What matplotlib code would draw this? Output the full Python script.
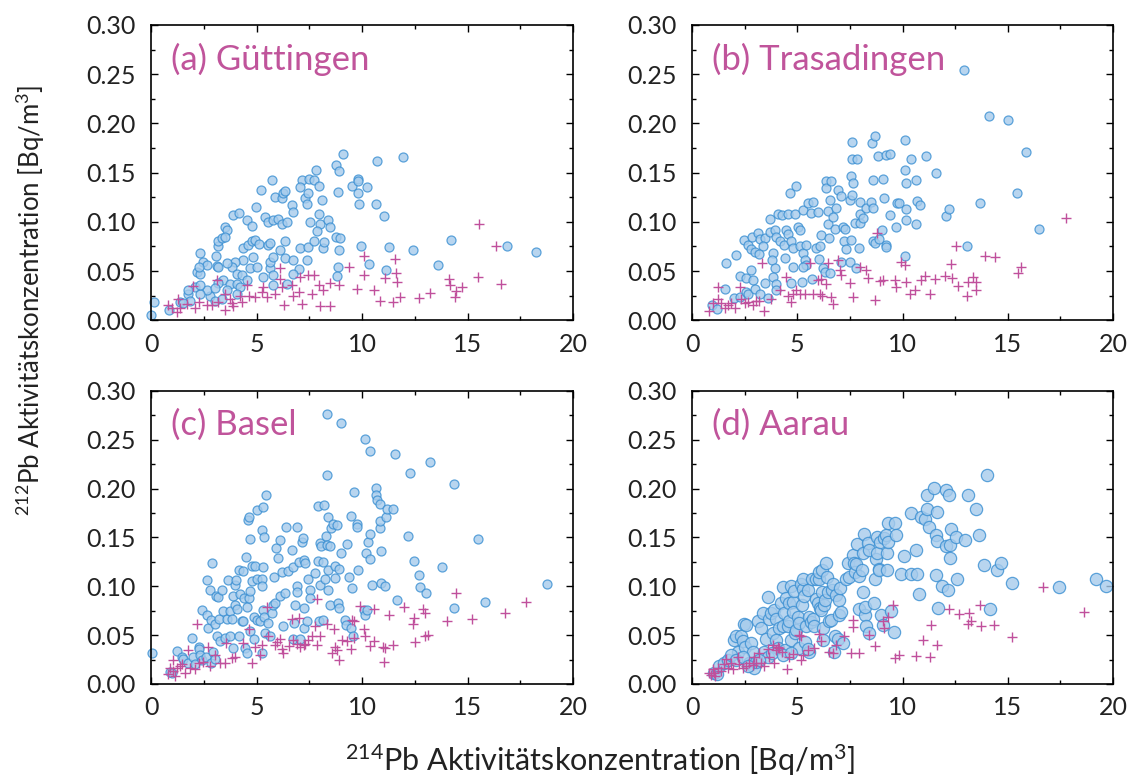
import matplotlib
matplotlib.use("Agg")
import matplotlib.pyplot as plt
from matplotlib.ticker import MultipleLocator, FormatStrFormatter

plt.rcParams['font.family'] = ['Lato', 'DejaVu Sans']
plt.rcParams['mathtext.fontset'] = 'custom'
plt.rcParams['mathtext.rm'] = 'Lato'
plt.rcParams['mathtext.it'] = 'Lato'
plt.rcParams['mathtext.bf'] = 'Lato'
plt.rcParams['mathtext.default'] = 'rm'

titles = ["(a) Güttingen", "(b) Trasadingen", "(c) Basel", "(d) Aarau"]
xticks = [0, 5, 10, 15, 20]
yticks = [0.00, 0.05, 0.10, 0.15, 0.20, 0.25, 0.30]
xlabel = "$^{214}$Pb Aktivitätskonzentration [Bq/m$^{3}$]"
ylabel = "$^{212}$Pb Aktivitätskonzentration [Bq/m$^{3}$]"

# ---------------- (a) Güttingen ----------------
a_circ_x = [0.0, 0.15, 0.87, 1.38, 1.77, 2.09, 2.32, 2.17, 2.3, 2.48, 2.64, 2.25, 3.07, 3.19, 3.19, 3.51, 3.59, 3.35, 3.51,
            3.87, 4.19, 4.54, 4.78, 4.96, 5.2, 5.72, 5.88, 6.2, 6.24, 6.35, 5.41, 5.56, 5.8, 6.04, 6.2, 6.43, 6.67, 6.75,
            7.15, 7.07, 7.3, 7.38, 7.46, 7.51, 7.7, 7.83, 7.94, 8.09, 7.94, 7.54, 8.02, 7.86, 8.41, 8.49, 8.77, 8.89, 9.12,
            8.84, 9.52, 9.83, 9.79, 9.8, 9.87, 10.23, 10.7, 10.67, 11.05, 11.94, 8.77, 8.97, 8.89, 8.85, 8.8, 9.96, 10.31,
            11.26, 11.15, 12.4, 13.6, 14.21, 16.87, 18.26,
            4.38, 4.61, 4.78, 4.94, 5.14, 4.82, 4.38, 3.98, 3.82, 4.06, 4.3, 4.7, 5.01, 5.33, 5.64, 5.64, 5.8, 6.12, 6.33,
            5.56, 5.64, 6.35, 6.75, 7.07, 7.46, 7.7, 8.14, 8.22, 7.38, 6.99, 6.75, 5.8, 5.8, 6.43, 3.59, 3.11, 3.19, 3.43,
            3.19, 3.75, 4.06, 4.22, 4.54, 3.59, 2.8, 2.64, 2.32, 1.85, 1.5, 3.04, 3.35, 4.06, 2.32, 1.77, 3.04]
a_circ_y = [0.005, 0.019, 0.010, 0.019, 0.027, 0.034, 0.068, 0.049, 0.047, 0.059, 0.056, 0.054, 0.065, 0.075, 0.080, 0.095,
            0.092, 0.084, 0.085, 0.107, 0.109, 0.102, 0.096, 0.115, 0.132, 0.142, 0.125, 0.124, 0.129, 0.131, 0.105, 0.100,
            0.102, 0.103, 0.098, 0.100, 0.117, 0.110, 0.142, 0.135, 0.124, 0.118, 0.129, 0.144, 0.142, 0.153, 0.136, 0.122,
            0.108, 0.100, 0.098, 0.091, 0.102, 0.095, 0.158, 0.152, 0.169, 0.130, 0.136, 0.143, 0.141, 0.129, 0.118, 0.135,
            0.162, 0.118, 0.106, 0.166, 0.085, 0.084, 0.071, 0.054, 0.045, 0.075, 0.057, 0.074, 0.051, 0.071, 0.056, 0.082,
            0.075, 0.069,
            0.073, 0.076, 0.081, 0.082, 0.077, 0.064, 0.061, 0.059, 0.054, 0.047, 0.046, 0.053, 0.054, 0.044, 0.053, 0.059,
            0.064, 0.071, 0.080, 0.076, 0.078, 0.063, 0.061, 0.073, 0.074, 0.081, 0.073, 0.079, 0.061, 0.052, 0.047, 0.046,
            0.036, 0.037, 0.058, 0.055, 0.054, 0.041, 0.038, 0.037, 0.037, 0.034, 0.041, 0.031, 0.025, 0.031, 0.027, 0.020,
            0.017, 0.020, 0.022, 0.027, 0.036, 0.031, 0.033]
a_plus_x = [0.82, 0.98, 1.22, 1.38, 1.3, 1.69, 2.09, 2.25, 2.64, 2.88, 2.01, 3.11, 3.51, 3.82, 3.9, 4.3, 4.22, 4.54, 4.62,
            4.94, 5.33, 5.25, 5.49, 5.88, 6.12, 6.12, 6.2, 6.28, 6.67, 6.75, 6.99, 7.07, 7.15, 7.46, 7.7, 7.62, 7.94, 8.17,
            8.02, 8.49, 8.49, 8.93, 9.36, 9.75, 10.1, 10.07, 10.55, 10.83, 11.1, 11.54, 11.62, 11.65, 11.46, 11.81, 12.68,
            13.2, 14.1, 14.15, 14.47, 14.42, 14.74, 15.48, 15.52, 16.36, 16.58, 3.51, 3.75, 3.19]
a_plus_y = [0.015, 0.012, 0.008, 0.012, 0.022, 0.016, 0.012, 0.019, 0.015, 0.015, 0.035, 0.041, 0.010, 0.017, 0.014, 0.019,
            0.025, 0.036, 0.025, 0.024, 0.034, 0.029, 0.024, 0.027, 0.053, 0.042, 0.034, 0.015, 0.036, 0.025, 0.029, 0.044,
            0.016, 0.046, 0.046, 0.027, 0.036, 0.031, 0.014, 0.014, 0.038, 0.036, 0.054, 0.032, 0.065, 0.046, 0.031, 0.020,
            0.043, 0.062, 0.048, 0.039, 0.019, 0.024, 0.023, 0.028, 0.042, 0.036, 0.030, 0.024, 0.034, 0.044, 0.098, 0.075,
            0.037, 0.027, 0.022, 0.019]

# ---------------- (b) Trasadingen ----------------
b_circ_x = [0.97, 1.19, 1.55, 1.63, 2.11, 1.98, 2.26, 2.30, 2.55, 2.58, 2.66, 2.79, 2.47, 2.66, 2.87, 2.82, 2.98, 3.14, 3.21,
            3.45, 3.37, 3.18, 2.9, 2.98, 3.21, 3.45, 3.61, 3.69, 3.69, 3.93, 4.01, 3.85, 3.82, 3.93, 3.85, 4.01, 3.98, 4.09,
            4.25, 4.17, 4.36, 4.4, 4.48, 4.56, 4.56, 4.64, 4.93, 4.88, 4.72, 4.8, 4.8, 4.72, 5.04, 5.12, 5.27, 5.51, 5.75,
            5.15, 5.27, 5.35, 5.43, 5.27, 5.24, 5.43, 5.67, 5.99, 5.91, 6.06, 6.03, 5.7, 6.14, 6.22, 6.3, 6.35, 6.35, 6.46,
            6.54, 6.62, 6.46, 6.51, 6.54, 6.7, 6.82, 6.78, 6.94, 7.09, 7.09, 7.17, 7.25, 7.21, 7.33, 7.49, 7.57, 7.62, 7.62,
            7.65, 7.62, 7.54, 7.52, 7.81, 7.84, 7.73, 7.93, 7.97, 7.97, 8.0, 8.12, 8.28, 8.49, 8.6, 8.6, 8.57, 8.68, 8.6,
            8.68, 8.84, 8.88, 9.04, 9.07, 9.1, 9.23, 9.39, 9.23, 9.23, 9.42, 9.67, 9.74, 9.83, 10.1, 10.1, 10.18, 10.18,
            10.18, 10.1, 10.42, 10.66, 10.69, 10.85, 10.63, 11.13, 11.58, 12.08, 12.21, 12.91, 13.08, 13.7, 14.11, 15.01,
            15.44, 15.85, 16.48]
b_circ_y = [0.015, 0.011, 0.032, 0.058, 0.066, 0.023, 0.024, 0.045, 0.043, 0.029, 0.027, 0.051, 0.082, 0.076, 0.085, 0.072,
            0.069, 0.089, 0.083, 0.084, 0.075, 0.067, 0.041, 0.032, 0.027, 0.038, 0.023, 0.103, 0.090, 0.092, 0.085, 0.068,
            0.061, 0.053, 0.044, 0.037, 0.031, 0.108, 0.107, 0.081, 0.076, 0.063, 0.092, 0.108, 0.088, 0.129, 0.136, 0.108,
            0.080, 0.073, 0.054, 0.038, 0.095, 0.092, 0.112, 0.119, 0.120, 0.075, 0.068, 0.061, 0.056, 0.054, 0.039, 0.076,
            0.109, 0.110, 0.073, 0.075, 0.062, 0.042, 0.087, 0.053, 0.049, 0.141, 0.134, 0.111, 0.122, 0.141, 0.098, 0.084,
            0.048, 0.105, 0.114, 0.093, 0.132, 0.126, 0.059, 0.095, 0.093, 0.080, 0.072, 0.122, 0.147, 0.181, 0.164, 0.139,
            0.127, 0.082, 0.059, 0.053, 0.164, 0.099, 0.073, 0.099, 0.108, 0.120, 0.104, 0.114, 0.120, 0.142, 0.114, 0.180,
            0.187, 0.081, 0.078, 0.167, 0.083, 0.092, 0.144, 0.124, 0.168, 0.169, 0.076, 0.074, 0.107, 0.095, 0.119, 0.119,
            0.183, 0.153, 0.139, 0.113, 0.102, 0.065, 0.164, 0.142, 0.121, 0.117, 0.098, 0.167, 0.150, 0.106, 0.113, 0.254,
            0.075, 0.119, 0.208, 0.203, 0.129, 0.171, 0.093]
b_plus_x = [0.81, 1.0, 1.24, 1.24, 1.39, 1.55, 1.71, 1.87, 2.03, 2.26, 2.34, 2.5, 2.66, 2.9, 3.06, 3.18, 3.34, 3.4, 3.77,
            4.17, 4.48, 4.56, 4.72, 4.8, 4.96, 5.12, 5.35, 5.59, 5.75, 5.99, 6.06, 6.19, 6.14, 6.38, 6.46, 6.62, 6.7, 6.94,
            7.01, 7.09, 7.49, 7.65, 7.97, 8.28, 8.36, 8.68, 8.8, 8.92, 9.07, 9.63, 9.71, 9.94, 10.1, 10.18, 10.34, 10.58,
            10.9, 11.06, 11.29, 11.53, 12.0, 12.32, 12.37, 12.56, 12.64, 13.06, 13.11, 13.35, 13.51, 13.51, 13.9, 14.38,
            15.49, 15.65, 17.75]
b_plus_y = [0.009, 0.017, 0.034, 0.022, 0.017, 0.012, 0.015, 0.017, 0.012, 0.034, 0.022, 0.017, 0.019, 0.015, 0.020, 0.020,
            0.058, 0.009, 0.022, 0.031, 0.044, 0.025, 0.019, 0.027, 0.031, 0.027, 0.027, 0.058, 0.027, 0.041, 0.027, 0.025,
            0.042, 0.037, 0.058, 0.024, 0.016, 0.061, 0.051, 0.046, 0.038, 0.024, 0.054, 0.051, 0.043, 0.021, 0.089, 0.040,
            0.041, 0.041, 0.034, 0.059, 0.056, 0.039, 0.027, 0.031, 0.041, 0.045, 0.027, 0.042, 0.045, 0.057, 0.043, 0.075,
            0.035, 0.025, 0.039, 0.044, 0.031, 0.039, 0.065, 0.064, 0.048, 0.054, 0.104]

# ---------------- (c) Basel ----------------
c_circ_x = [0.03, 0.9, 0.98, 1.25, 1.45, 1.53, 1.77, 1.93, 2.01, 2.09, 2.25, 2.29, 2.32, 2.4, 2.43, 2.61, 2.64, 2.67, 2.72,
            2.8, 2.83, 2.88, 2.83, 2.96, 3.04, 3.04, 3.08, 3.15, 3.19, 3.24, 3.27, 3.35, 3.4, 3.51, 3.59, 3.67, 3.75, 3.72,
            3.83, 3.9, 3.9, 3.98, 3.98, 4.03, 4.06, 4.19, 4.22, 4.19, 4.3, 4.38, 4.38, 4.42, 4.46, 4.51, 4.54, 4.54, 4.58,
            4.62, 4.66, 4.7, 4.7, 4.7, 4.78, 4.78, 4.86, 4.88, 4.94, 5.01, 5.01, 5.04, 5.17, 5.25, 5.25, 5.25, 5.3, 5.33,
            5.33, 5.36, 5.36, 5.41, 5.25, 5.44, 5.56, 5.64, 5.72, 5.8, 5.88, 5.83, 5.91, 6.04, 6.12, 6.12, 6.2, 6.24, 6.33,
            6.4, 6.47, 6.67, 6.72, 6.75, 6.78, 6.8, 6.9, 6.9, 6.93, 6.99, 7.04, 7.15, 7.2, 7.23, 7.25, 7.25, 7.3, 7.38,
            7.46, 7.54, 7.54, 7.78, 7.89, 7.89, 7.94, 7.99, 8.02, 8.07, 8.14, 8.17, 8.2, 8.27, 8.33, 8.33, 8.33, 8.25,
            8.38, 8.41, 8.41, 8.46, 8.49, 8.52, 8.62, 8.7, 8.7, 8.81, 8.85, 8.9, 8.92, 9.0, 9.0, 9.2, 9.25, 9.31, 9.37,
            9.47, 9.47, 9.52, 9.57, 9.6, 9.75, 9.78, 9.83, 10.1, 10.12, 10.15, 10.18, 10.23, 10.28, 10.36, 10.36, 10.39,
            10.47, 10.68, 10.68, 10.71, 10.83, 10.83, 10.86, 10.91, 10.91, 11.1, 11.15, 11.18, 11.49, 11.54, 11.68, 12.2,
            12.25, 12.44, 12.68, 12.73, 13.04, 13.2, 13.79, 14.34, 14.37, 15.49, 15.84, 18.77]
c_circ_y = [0.032, 0.012, 0.011, 0.034, 0.028, 0.026, 0.021, 0.047, 0.028, 0.020, 0.038, 0.036, 0.030, 0.025, 0.076, 0.028,
            0.071, 0.106, 0.057, 0.096, 0.066, 0.124, 0.022, 0.033, 0.026, 0.061, 0.090, 0.049, 0.089, 0.067, 0.044, 0.096,
            0.075, 0.047, 0.067, 0.106, 0.075, 0.049, 0.067, 0.037, 0.090, 0.101, 0.081, 0.106, 0.077, 0.117, 0.092, 0.049,
            0.064, 0.116, 0.064, 0.088, 0.037, 0.130, 0.079, 0.032, 0.168, 0.088, 0.171, 0.148, 0.095, 0.054, 0.121, 0.105,
            0.069, 0.046, 0.121, 0.178, 0.107, 0.066, 0.065, 0.158, 0.107, 0.100, 0.120, 0.181, 0.076, 0.150, 0.069, 0.052,
            0.032, 0.193, 0.062, 0.049, 0.073, 0.081, 0.083, 0.110, 0.139, 0.129, 0.147, 0.090, 0.115, 0.059, 0.093, 0.161,
            0.116, 0.137, 0.046, 0.120, 0.062, 0.081, 0.100, 0.094, 0.161, 0.125, 0.046, 0.145, 0.149, 0.127, 0.057, 0.078,
            0.124, 0.064, 0.108, 0.096, 0.088, 0.114, 0.182, 0.126, 0.064, 0.101, 0.144, 0.141, 0.125, 0.066, 0.183, 0.152,
            0.276, 0.214, 0.142, 0.107, 0.117, 0.171, 0.096, 0.141, 0.081, 0.160, 0.164, 0.109, 0.121, 0.163, 0.083, 0.118,
            0.078, 0.267, 0.134, 0.066, 0.060, 0.143, 0.110, 0.172, 0.057, 0.098, 0.049, 0.197, 0.164, 0.161, 0.117, 0.076,
            0.071, 0.251, 0.134, 0.076, 0.145, 0.239, 0.128, 0.154, 0.101, 0.201, 0.194, 0.188, 0.184, 0.160, 0.167, 0.136,
            0.103, 0.100, 0.171, 0.179, 0.179, 0.235, 0.086, 0.152, 0.216, 0.126, 0.112, 0.099, 0.093, 0.227, 0.120, 0.078,
            0.205, 0.148, 0.084, 0.102]
c_plus_x = [0.82, 0.9, 1.03, 1.06, 1.14, 1.22, 1.38, 1.45, 1.61, 1.77, 1.85, 2.09, 2.2, 2.25, 2.48, 2.72, 2.8, 3.04, 3.27,
            3.51, 3.56, 3.83, 3.98, 4.38, 4.62, 4.78, 4.94, 5.17, 5.25, 5.49, 5.52, 5.88, 5.96, 6.09, 6.2, 6.24, 6.56, 6.67,
            6.75, 6.93, 6.99, 7.07, 7.23, 7.3, 7.46, 7.62, 7.78, 7.86, 7.86, 8.02, 8.33, 8.57, 8.65, 8.73, 8.81, 8.89, 9.04,
            9.28, 9.47, 9.52, 9.6, 9.63, 9.91, 10.07, 10.15, 10.39, 10.55, 10.58, 11.0, 11.02, 11.1, 11.26, 11.49, 11.97,
            12.41, 12.44, 12.49, 12.91, 12.99, 12.99, 13.15, 14.02, 14.47, 15.21, 16.79, 17.79]
c_plus_y = [0.010, 0.016, 0.013, 0.025, 0.008, 0.016, 0.018, 0.020, 0.011, 0.035, 0.016, 0.015, 0.061, 0.021, 0.023, 0.038,
            0.018, 0.030, 0.021, 0.022, 0.042, 0.027, 0.028, 0.042, 0.056, 0.022, 0.038, 0.030, 0.040, 0.079, 0.049, 0.040,
            0.043, 0.046, 0.036, 0.032, 0.039, 0.067, 0.045, 0.041, 0.068, 0.038, 0.040, 0.041, 0.045, 0.049, 0.059, 0.040,
            0.087, 0.049, 0.061, 0.032, 0.056, 0.038, 0.035, 0.025, 0.045, 0.044, 0.036, 0.066, 0.064, 0.047, 0.080, 0.056,
            0.049, 0.039, 0.077, 0.044, 0.038, 0.023, 0.037, 0.071, 0.040, 0.079, 0.061, 0.068, 0.043, 0.077, 0.073, 0.049,
            0.050, 0.064, 0.093, 0.067, 0.073, 0.084]

# ---------------- (d) Aarau ----------------
d_circ_x = [1.06, 1.17, 2.01, 2.09, 2.17, 2.33, 2.4, 2.48, 2.56, 2.53, 2.72, 2.8, 2.88, 2.96, 3.04, 3.12, 3.28, 3.35, 3.43,
            3.51, 3.59, 3.59, 3.67, 3.75, 3.83, 3.91, 3.99, 3.99, 4.07, 4.11, 4.22, 4.3, 4.3, 4.38, 4.43, 4.46, 4.54, 4.59,
            4.62, 4.7, 4.7, 4.78, 4.81, 4.86, 4.91, 4.94, 5.01, 5.06, 5.09, 5.17, 5.22, 5.25, 5.28, 5.33, 5.38, 5.41, 5.49,
            5.54, 5.57, 5.65, 5.7, 5.73, 5.81, 5.89, 5.89, 5.97, 6.01, 6.04, 6.08, 6.12, 6.17, 6.17, 6.2, 6.28, 6.33, 6.36,
            6.39, 6.44, 6.52, 6.6, 6.65, 6.68, 6.76, 6.8, 6.84, 6.91, 6.96, 6.99, 7.03, 7.07, 7.18, 7.31, 7.39, 7.44, 7.63,
            7.71, 7.75, 7.78, 7.82, 7.91, 7.94, 8.07, 8.13, 8.13, 8.18, 8.2, 8.23, 8.26, 8.34, 8.39, 8.42, 8.66, 8.7, 8.73,
            8.77, 8.77, 8.86, 8.89, 8.92, 8.97, 9.05, 9.13, 9.21, 9.24, 9.24, 9.29, 9.33, 9.45, 9.6, 9.65, 9.68, 9.92,
            10.05, 10.4, 10.4, 10.66, 10.71, 10.79, 10.87, 11.08, 11.14, 11.14, 11.27, 11.5, 11.58, 11.61, 11.63, 11.66,
            11.69, 11.87, 12.06, 12.06, 12.17, 12.19, 12.25, 12.3, 12.27, 12.53, 12.61, 12.97, 13.09, 13.51, 13.64, 13.88,
            13.99, 14.15, 14.51, 14.67, 15.19, 17.41, 19.18, 19.65,
            1.3, 1.53, 1.69, 1.85, 2.09, 2.4, 2.64, 3.2, 3.8, 4.3, 4.7, 5.5, 6.2]
d_circ_y = [0.011, 0.010, 0.045, 0.049, 0.033, 0.049, 0.044, 0.061, 0.060, 0.038, 0.021, 0.042, 0.033, 0.016, 0.023, 0.064,
            0.057, 0.073, 0.033, 0.046, 0.089, 0.028, 0.067, 0.073, 0.052, 0.076, 0.045, 0.067, 0.037, 0.057, 0.083, 0.099,
            0.059, 0.073, 0.035, 0.088, 0.059, 0.064, 0.083, 0.100, 0.045, 0.084, 0.074, 0.095, 0.052, 0.055, 0.069, 0.037,
            0.062, 0.102, 0.081, 0.097, 0.107, 0.090, 0.043, 0.059, 0.096, 0.033, 0.069, 0.063, 0.108, 0.067, 0.059, 0.087,
            0.107, 0.083, 0.108, 0.115, 0.078, 0.076, 0.094, 0.117, 0.057, 0.081, 0.086, 0.124, 0.110, 0.094, 0.064, 0.066,
            0.096, 0.102, 0.033, 0.049, 0.091, 0.046, 0.071, 0.086, 0.098, 0.074, 0.042, 0.107, 0.124, 0.110, 0.132, 0.124,
            0.115, 0.123, 0.143, 0.111, 0.077, 0.117, 0.094, 0.134, 0.154, 0.071, 0.079, 0.059, 0.144, 0.052, 0.137, 0.083,
            0.107, 0.128, 0.134, 0.151, 0.118, 0.117, 0.145, 0.071, 0.060, 0.149, 0.153, 0.134, 0.117, 0.165, 0.145, 0.075,
            0.053, 0.165, 0.153, 0.113, 0.131, 0.113, 0.175, 0.137, 0.113, 0.092, 0.171, 0.169, 0.193, 0.179, 0.161, 0.201,
            0.112, 0.153, 0.146, 0.176, 0.078, 0.100, 0.199, 0.141, 0.096, 0.193, 0.142, 0.159, 0.129, 0.150, 0.108, 0.147,
            0.194, 0.179, 0.153, 0.122, 0.214, 0.077, 0.117, 0.124, 0.103, 0.099, 0.107, 0.100,
            0.018, 0.021, 0.025, 0.030, 0.025, 0.028, 0.018, 0.025, 0.032, 0.030, 0.032, 0.036, 0.045]
d_plus_x = [0.82, 0.9, 0.98, 1.06, 1.11, 1.22, 1.38, 1.53, 1.61, 1.69, 1.85, 1.93, 2.17, 2.25, 2.4, 2.56, 2.72, 2.88, 2.96,
            3.04, 3.2, 3.28, 3.43, 3.59, 3.67, 3.83, 3.91, 3.99, 4.07, 4.15, 4.27, 4.51, 4.59, 4.78, 5.09, 5.17, 5.17, 5.25,
            5.49, 5.81, 6.04, 6.12, 6.52, 6.68, 6.84, 7.23, 7.55, 7.63, 7.66, 7.94, 8.42, 8.7, 9.05, 9.13, 9.29, 9.53, 9.65,
            9.84, 10.63, 10.98, 11.3, 11.35, 11.66, 12.22, 12.69, 13.09, 13.16, 13.24, 13.67, 13.72, 14.35, 15.19, 16.65,
            18.62]
d_plus_y = [0.011, 0.009, 0.015, 0.011, 0.008, 0.016, 0.013, 0.020, 0.026, 0.016, 0.021, 0.015, 0.028, 0.020, 0.016, 0.018,
            0.021, 0.019, 0.028, 0.021, 0.032, 0.021, 0.018, 0.036, 0.028, 0.040, 0.021, 0.035, 0.038, 0.037, 0.033, 0.015,
            0.028, 0.031, 0.050, 0.049, 0.025, 0.030, 0.035, 0.037, 0.051, 0.044, 0.033, 0.032, 0.040, 0.049, 0.032, 0.066,
            0.058, 0.032, 0.050, 0.039, 0.064, 0.057, 0.069, 0.081, 0.027, 0.030, 0.029, 0.045, 0.028, 0.060, 0.040, 0.077,
            0.072, 0.061, 0.073, 0.065, 0.081, 0.059, 0.060, 0.048, 0.099, 0.074]

panels = [
    (a_circ_x, a_circ_y, a_plus_x, a_plus_y),
    (b_circ_x, b_circ_y, b_plus_x, b_plus_y),
    (c_circ_x, c_circ_y, c_plus_x, c_plus_y),
    (d_circ_x, d_circ_y, d_plus_x, d_plus_y),
]

circle_face = '#a6cbec'
circle_edge = '#3a8fd2'
plus_color = '#c0509c'
title_color = '#c0549b'

fig = plt.figure(figsize=(11.39, 7.81), dpi=100)
positions = [
    [0.1326, 0.590, 0.3705, 0.378],
    [0.6076, 0.590, 0.3696, 0.378],
    [0.1326, 0.1242, 0.3705, 0.3752],
    [0.6076, 0.1242, 0.3696, 0.3752],
]
circle_sizes = [42, 42, 42, 78]

for i, (cx, cy, px, py) in enumerate(panels):
    ax = fig.add_axes(positions[i])
    ax.scatter(cx, cy, s=circle_sizes[i], facecolor=circle_face, edgecolor=circle_edge,
               linewidth=0.9, alpha=0.8, zorder=2, clip_on=False)
    ax.scatter(px, py, s=55, marker='+', color=plus_color, linewidth=1.0, zorder=3)
    ax.set_xlim(0, 20)
    ax.set_ylim(0, 0.30)
    ax.set_xticks(xticks)
    ax.set_yticks(yticks)
    ax.xaxis.set_minor_locator(MultipleLocator(2.5))
    ax.yaxis.set_minor_locator(MultipleLocator(0.025))
    ax.yaxis.set_major_formatter(FormatStrFormatter('%.2f'))
    ax.tick_params(which='both', direction='in', top=True, right=True, width=1.0, colors='black')
    ax.tick_params(axis='x', which='major', labelsize=18, pad=9)
    ax.tick_params(axis='y', which='major', labelsize=18, pad=11)
    ax.tick_params(which='major', length=5)
    ax.tick_params(which='minor', length=3)
    for lab in ax.get_xticklabels() + ax.get_yticklabels():
        lab.set_color('#222222')
    for sp in ax.spines.values():
        sp.set_linewidth(1.2)
    ax.text(0.048, 0.885, titles[i], transform=ax.transAxes, fontsize=25, color=title_color,
            ha='left', va='center')

fig.text(0.527, 0.026, xlabel, ha='center', va='center', fontsize=22, color='#222222')
fig.text(0.027, 0.616, ylabel, ha='center', va='center', rotation=90, fontsize=18.5, color='#222222')

fig.savefig('out.png', dpi=100)
